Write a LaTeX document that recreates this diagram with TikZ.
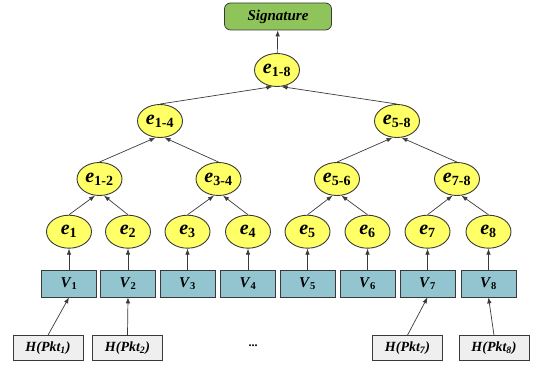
\documentclass[tikz,border=0pt]{standalone}
\usepackage{fontspec}
\setmainfont{Liberation Serif}
\usepackage{tikz}
\usetikzlibrary{positioning,arrows.meta,shapes.geometric}
\definecolor{hashyellow}{HTML}{FFFF66}
\definecolor{hashedge}{HTML}{3A3A3A}
\definecolor{vfill}{HTML}{93C5D1}
\definecolor{sigfill}{HTML}{8FC45A}
\definecolor{pktfill}{HTML}{EFEFEF}

\begin{document}
\begin{tikzpicture}[x=1pt,y=1pt,>={Latex[length=6pt,width=4.5pt]}]

\tikzstyle{hash} = [draw=hashedge, line width=0.9pt, fill=hashyellow, ellipse, minimum width=45pt, minimum height=33pt, inner sep=1pt, font=\fontsize{20}{21}\selectfont\bfseries]
\tikzstyle{vbox} = [draw=hashedge, line width=0.7pt, fill=vfill, rectangle, minimum width=55pt, minimum height=27pt, font=\fontsize{15}{16}\selectfont\bfseries]
\tikzstyle{pkt} = [draw=hashedge, line width=0.7pt, fill=pktfill, rectangle, minimum width=70pt, minimum height=25pt, font=\fontsize{14}{15}\selectfont\bfseries\itshape]
\tikzstyle{edge} = [draw=hashedge, line width=0.7pt]

\useasboundingbox (0,0) rectangle (543,366);

% Signature
\node [draw=hashedge, line width=0.8pt, fill=sigfill, rounded corners=6pt, minimum width=107pt, minimum height=27pt, font=\fontsize{15}{16}\selectfont\bfseries\itshape] (sig) at (278,349.5) {Signature};

% leaf values
\node [vbox] (v1) at (69,82.5) {\textit{V}\textsubscript{1}};
\node [vbox] (v2) at (128,82.5) {\textit{V}\textsubscript{2}};
\node [vbox] (v3) at (187.5,82.5) {\textit{V}\textsubscript{3}};
\node [vbox] (v4) at (248,82.5) {\textit{V}\textsubscript{4}};
\node [vbox] (v5) at (307.5,82.5) {\textit{V}\textsubscript{5}};
\node [vbox] (v6) at (367.5,82.5) {\textit{V}\textsubscript{6}};
\node [vbox] (v7) at (427.5,82.5) {\textit{V}\textsubscript{7}};
\node [vbox] (v8) at (488.5,82.5) {\textit{V}\textsubscript{8}};

% leaf hashes
\node [hash, above=21pt of v1] (e1) {\textit{e}\textsubscript{1}};
\node [hash, above=21pt of v2] (e2) {\textit{e}\textsubscript{2}};
\node [hash, above=21pt of v3] (e3) {\textit{e}\textsubscript{3}};
\node [hash, above=21pt of v4] (e4) {\textit{e}\textsubscript{4}};
\node [hash, above=21pt of v5] (e5) {\textit{e}\textsubscript{5}};
\node [hash, above=21pt of v6] (e6) {\textit{e}\textsubscript{6}};
\node [hash, above=21pt of v7] (e7) {\textit{e}\textsubscript{7}};
\node [hash, above=21pt of v8] (e8) {\textit{e}\textsubscript{8}};
\draw [edge,->] (v1) -- (e1);
\draw [edge,->] (v2) -- (e2);
\draw [edge,->] (v3) -- (e3);
\draw [edge,->] (v4) -- (e4);
\draw [edge,->] (v5) -- (e5);
\draw [edge,->] (v6) -- (e6);
\draw [edge,->] (v7) -- (e7);
\draw [edge,->] (v8) -- (e8);

% inner hashes
\node [hash] (e12) at (99.5,187) {\textit{e}\textsubscript{1-2}};
\node [hash] (e34) at (218.5,187) {\textit{e}\textsubscript{3-4}};
\node [hash] (e56) at (337,187) {\textit{e}\textsubscript{5-6}};
\node [hash] (e78) at (457,187) {\textit{e}\textsubscript{7-8}};
\node [hash] (e14) at (160,245) {\textit{e}\textsubscript{1-4}};
\node [hash] (e58) at (397,245) {\textit{e}\textsubscript{5-8}};
\node [hash] (e18) at (277,296) {\textit{e}\textsubscript{1-8}};
\draw [edge,->] (e1.north) -- (e12.255);
\draw [edge,->] (e2.north) -- (e12.285);
\draw [edge,->] (e3.north) -- (e34.255);
\draw [edge,->] (e4.north) -- (e34.285);
\draw [edge,->] (e5.north) -- (e56.255);
\draw [edge,->] (e6.north) -- (e56.285);
\draw [edge,->] (e7.north) -- (e78.255);
\draw [edge,->] (e8.north) -- (e78.285);
\draw [edge,->] (e12.north) -- (e14.255);
\draw [edge,->] (e34.north) -- (e14.285);
\draw [edge,->] (e56.north) -- (e58.255);
\draw [edge,->] (e78.north) -- (e58.285);
\draw [edge,->] (e14.north) -- (e18.255);
\draw [edge,->] (e58.north) -- (e18.285);
\draw [edge,->] (e18) -- (sig);

% packet hashes
\node [pkt] (h1) at (48,18) {H(Pkt\textsubscript{1})};
\node [pkt] (h2) at (127.5,18) {H(Pkt\textsubscript{2})};
\node [font=\fontsize{12}{13}\selectfont\bfseries] (dots) at (253,20) {...};
\node [pkt] (h7) at (407.5,18) {H(Pkt\textsubscript{7})};
\node [pkt] (h8) at (494,18) {H(Pkt\textsubscript{8})};
\draw [edge,->] (h1.north) -- (v1.south);
\draw [edge,->] (h2.north) -- (v2.south);
\draw [edge,->] (h7.north) -- (v7.south);
\draw [edge,->] (h8.north) -- (v8.south);

\end{tikzpicture}
\end{document}
